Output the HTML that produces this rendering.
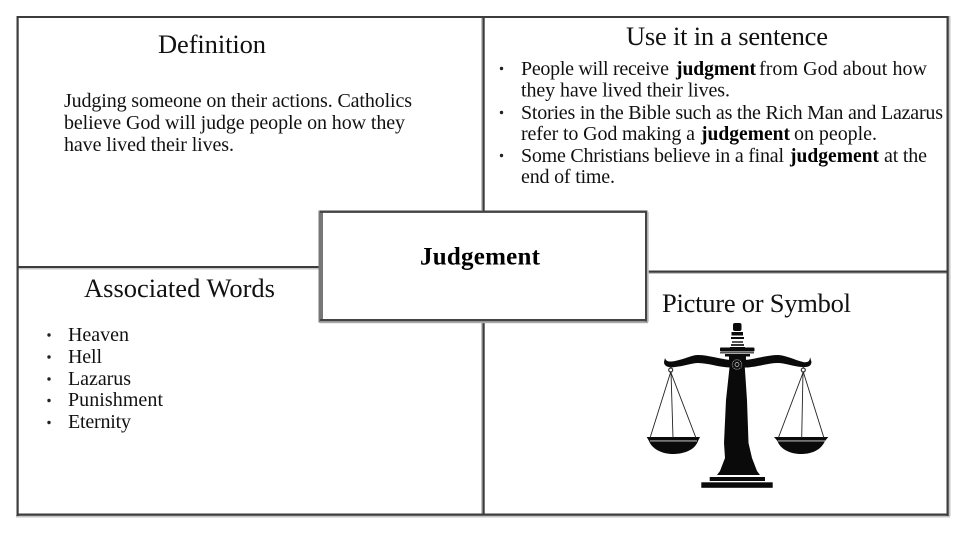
<!DOCTYPE html>
<html>
<head>
<meta charset="utf-8">
<style>
html,body{margin:0;padding:0;background:#fff;width:960px;height:540px;overflow:hidden}
svg{display:block}
text{font-family:"Liberation Serif",serif;fill:#111}
.h{font-size:26.5px}
.b{font-size:20px}
.s{font-weight:bold;font-size:19.5px;fill:#000}
</style>
</head>
<body>
<svg width="960" height="540" viewBox="0 0 960 540" xmlns="http://www.w3.org/2000/svg">
<rect width="960" height="540" fill="#fff"/>
<!-- frame shadows -->
<g fill="#c4c4c4">
<rect x="16" y="515" width="934" height="2.5"/>
<rect x="948" y="16" width="2.5" height="500"/>
<rect x="481" y="16" width="1.5" height="194"/>
<rect x="481" y="323" width="1.5" height="192"/>
<rect x="18" y="268" width="301" height="1.5"/>
<rect x="648" y="272.5" width="300" height="1.5"/>
</g>
<!-- frame -->
<g fill="#3c3c3c">
<rect x="16.5" y="16" width="932" height="2"/>
<rect x="16.5" y="16" width="2.2" height="500"/>
<rect x="946.5" y="16" width="2.2" height="500"/>
<rect x="16.5" y="513.5" width="932" height="2.2"/>
<rect x="482.5" y="16" width="2.2" height="195"/>
<rect x="482.5" y="320" width="2.2" height="195"/>
<rect x="17" y="266" width="302" height="2"/>
<rect x="647" y="270.5" width="300" height="2.2"/>
</g>
<!-- centre box -->
<rect x="318.5" y="210.5" width="330" height="112" fill="#fff"/>
<rect x="318.5" y="210.5" width="4.5" height="112" fill="#777"/>
<rect x="320" y="210.5" width="327" height="2.4" fill="#444"/>
<rect x="320" y="321" width="328" height="2.2" fill="#aaa"/>
<rect x="320" y="319" width="327" height="2.2" fill="#444"/>
<rect x="645" y="210.5" width="2.4" height="111" fill="#444"/>
<rect x="647.2" y="212" width="1.6" height="110" fill="#c4c4c4"/>

<g transform="translate(0 0.8)">
<!-- headings -->
<text class="h" x="158" y="52" textLength="108">Definition</text>
<text class="h" x="626" y="44" textLength="202">Use it in a sentence</text>
<text class="h" x="84" y="296" textLength="191">Associated Words</text>
<text class="h" x="662" y="311" textLength="189">Picture or Symbol</text>
<text class="h" x="420" y="263.5" textLength="120" style="font-weight:bold;font-size:25px;fill:#000">Judgement</text>

<!-- definition -->
<text class="b" x="64" y="106" textLength="348">Judging someone on their actions. Catholics</text>
<text class="b" x="64" y="128" textLength="341">believe God will judge people on how they</text>
<text class="b" x="64" y="150" textLength="170">have lived their lives.</text>

<!-- sentence list -->
<text class="b" x="521" y="74" textLength="148">People will receive</text>
<text class="s" x="676" y="74" textLength="80">judgment</text>
<text class="b" x="759" y="74" textLength="168">from God about how</text>
<text class="b" x="521" y="95.5" textLength="209">they have lived their lives.</text>
<text class="b" x="521" y="118" textLength="422">Stories in the Bible such as the Rich Man and Lazarus</text>
<text class="b" x="521" y="139" textLength="174">refer to God making a</text>
<text class="s" x="701" y="139" textLength="89">judgement</text>
<text class="b" x="794" y="139" textLength="83">on people.</text>
<text class="b" x="521" y="161" textLength="263">Some Christians believe in a final</text>
<text class="s" x="790" y="161" textLength="89">judgement</text>
<text class="b" x="884" y="161" textLength="43">at the</text>
<text class="b" x="521" y="182" textLength="94">end of time.</text>

<!-- associated list -->
<text class="b" x="68" y="340" textLength="61">Heaven</text>
<text class="b" x="68" y="362" textLength="34">Hell</text>
<text class="b" x="68" y="384" textLength="63">Lazarus</text>
<text class="b" x="68" y="405" textLength="95">Punishment</text>
<text class="b" x="68" y="427" textLength="63">Eternity</text>
</g>

<circle cx="501.5" cy="68.5" r="1.7" fill="#222"/>
<circle cx="501.5" cy="112.5" r="1.7" fill="#222"/>
<circle cx="501.5" cy="155.5" r="1.7" fill="#222"/>
<circle cx="49" cy="335" r="1.7" fill="#222"/>
<circle cx="49" cy="357" r="1.7" fill="#222"/>
<circle cx="49" cy="379" r="1.7" fill="#222"/>
<circle cx="49" cy="400.5" r="1.7" fill="#222"/>
<circle cx="49" cy="422.5" r="1.7" fill="#222"/>

<!-- scales -->
<g fill="#0a0a0a">
<rect x="701.3" y="482.3" width="71.4" height="5.5"/>
<rect x="709.7" y="477" width="55.3" height="4"/>
<path d="M730 363 L744.5 363 L747 400 L748.5 443 L752 458 L757 471 L760 475 L717 475 L720 471 L725 458 L724 443 L726 400 Z"/>
<path d="M665 358 C666 362 670 362 675 361 C685 359 692 355 698 355 C708 355 720 359 730 360 L745 360 C755 359 768 355 778 355 C785 355 795 360 803 362 C808 363 810 361 810 357 L811.5 362 C811 367 807 367 803 367 C795 367 785 363 778 363 C768 363 755 367.5 745 367.5 L730 367.5 C720 367.5 708 363 698 363 C692 363 685 366 675 367 C670 368 664 367 664 362 Z"/>
<rect x="733" y="323" width="8.5" height="8" rx="2"/>
<rect x="731.5" y="332" width="11.5" height="3.5"/>
<rect x="731" y="337" width="13" height="2"/>
<rect x="732" y="341" width="11" height="2" fill="#555"/>
<rect x="731" y="344" width="13" height="2" fill="#333"/>
<rect x="730" y="347" width="15" height="1.5"/>
<rect x="720" y="347.5" width="34.5" height="4" rx="1"/>
<rect x="720" y="352" width="34" height="1.5" fill="#555"/>
<rect x="725" y="354" width="25" height="2.5"/>
<rect x="729" y="356.5" width="17" height="5"/>
<path d="M646.7 437 L700 437 L698 441 C695 450 684 454 673 454 C662 454 652 449 649 441 Z"/>
<path d="M774 437 L828.3 437 L825 441 C821 450 812 454 801 454 C790 454 780 449 777.5 441 Z"/>
</g>
<rect x="650" y="440.5" width="47" height="0.9" fill="#ddd"/>
<rect x="778" y="440.5" width="47" height="0.9" fill="#ddd"/>
<circle cx="737" cy="364.5" r="4.8" fill="#111" stroke="#ccc" stroke-width="0.8" stroke-dasharray="1 1"/>
<circle cx="737" cy="364.5" r="2" fill="none" stroke="#ccc" stroke-width="0.7"/>
<g stroke="#222" stroke-width="0.9" fill="none">
<circle cx="670.7" cy="370" r="2" stroke="#333" stroke-width="1.2"/>
<circle cx="803.3" cy="370" r="2" stroke="#333" stroke-width="1.2"/>
<path d="M670.7 366 V368 M803.3 366 V368"/>
<path d="M670.7 372 L650 438 M670.7 372 L696 438 M671 372 L673 438"/>
<path d="M803.3 372 L778.3 438 M803.3 372 L824 438 M803 372 L801.7 438"/>
</g>
</svg>
</body>
</html>
